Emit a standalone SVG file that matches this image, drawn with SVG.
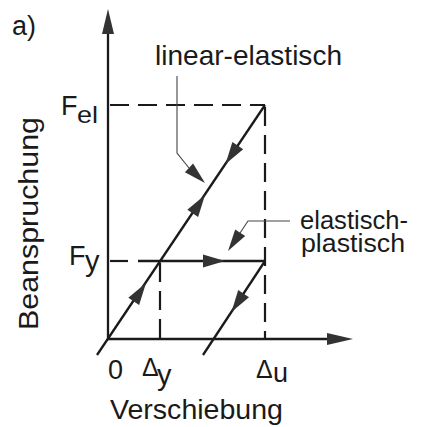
<svg xmlns="http://www.w3.org/2000/svg" width="422" height="427" viewBox="0 0 422 427">
<style>
text{font-family:"Liberation Sans",Arial,sans-serif;fill:#1a1a1a}
.ax{stroke:#1a1a1a;stroke-width:2.3;fill:none}
.ln{stroke:#1a1a1a;stroke-width:2.3;fill:none}
.da{stroke:#1a1a1a;stroke-width:2.2;fill:none;stroke-dasharray:19 9}
.pt{stroke:#444;stroke-width:1.1;fill:none}
.ah{fill:#333;stroke:none}
</style>
<rect width="422" height="427" fill="#fff"/>
<g id="connectors">
<line class="ax" x1="108" y1="340" x2="108" y2="30"/>
<polygon class="ah" points="108,9 102,34 114,34"/>
<line class="ax" x1="107" y1="339" x2="330" y2="339"/>
<polygon class="ah" points="353,339 327,333 327,345"/>
<line class="da" x1="110" y1="105" x2="265" y2="105"/>
<line class="da" x1="265" y1="107" x2="265" y2="339"/>
<line class="da" x1="110" y1="261" x2="128" y2="261"/>
<line class="da" x1="160" y1="263" x2="160" y2="339"/>
<line class="ln" x1="97" y1="355" x2="265" y2="105"/>
<line class="ln" x1="138" y1="261" x2="265" y2="261"/>
<line class="ln" x1="265" y1="261" x2="203" y2="355"/>
<polygon class="ah" points="146,283 139.1,304.9 128.3,297.7"/>
<polygon class="ah" points="205,195 198.1,216.9 187.3,209.7"/>
<polygon class="ah" points="225.5,164 243.2,149.3 232.4,142.1"/>
<polygon class="ah" points="225,261 203,254.5 203,267.5"/>
<polygon class="ah" points="231.5,312 249,297.2 238.2,290"/>
<polyline class="pt" points="177,76 177,153 189,168"/>
<polygon class="ah" points="205,183 184.9,172.3 193.1,163.5"/>
<polyline class="pt" points="290,221 248,221 240,233"/>
<polygon class="ah" points="228,251 245.2,236 235.2,229.4"/>
</g>
<g id="label-a"><text x="12" y="35" font-size="27">a)</text></g>
<g id="label-linear"><text x="155" y="65" font-size="27.5" textLength="187" lengthAdjust="spacingAndGlyphs">linear-elastisch</text></g>
<g id="label-ep"><text x="300" y="229" font-size="26" textLength="108" lengthAdjust="spacingAndGlyphs">elastisch-</text><text x="301" y="252" font-size="26" textLength="104" lengthAdjust="spacingAndGlyphs">plastisch</text></g>
<g id="label-Fel"><text x="61" y="115" font-size="27">F</text><text x="77" y="123" font-size="24" textLength="21" lengthAdjust="spacingAndGlyphs">el</text></g>
<g id="label-Fy"><text x="69" y="265" font-size="27">F</text><text x="85" y="271" font-size="29">y</text></g>
<g id="label-0"><text x="108" y="379" font-size="27">0</text></g>
<g id="label-dy"><text x="142" y="376" font-size="25">Δ</text><text x="157" y="385" font-size="29">y</text></g>
<g id="label-du"><text x="256" y="378" font-size="25">Δ</text><text x="273" y="382" font-size="27">u</text></g>
<g id="label-x"><text x="110" y="419" font-size="28" textLength="173" lengthAdjust="spacingAndGlyphs">Verschiebung</text></g>
<g id="label-y"><text transform="translate(38,330) rotate(-90)" font-size="28" textLength="213" lengthAdjust="spacingAndGlyphs">Beanspruchung</text></g>
</svg>
